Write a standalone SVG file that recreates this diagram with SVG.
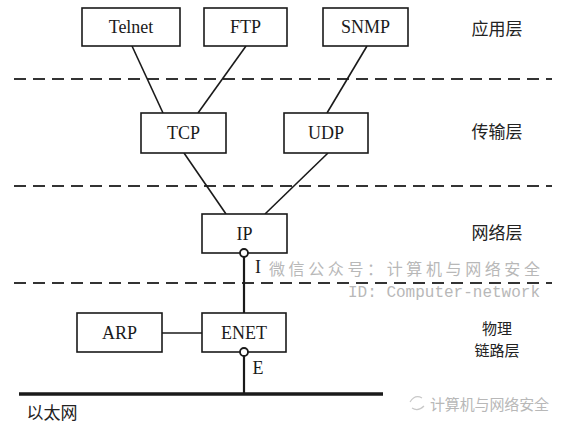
<svg xmlns="http://www.w3.org/2000/svg" width="566" height="428" viewBox="0 0 566 428">
<style>
.box{fill:#fff;stroke:#1a1a1a;stroke-width:1.6}
.lbl{font-family:"Liberation Serif","Times New Roman",serif;font-size:18px;fill:#1a1a1a;text-anchor:middle}
.cn{font-family:"Noto Sans CJK SC","Noto Serif CJK SC",sans-serif;font-size:17px;fill:#222;text-anchor:middle}
.cn2{font-family:"Noto Sans CJK SC","Noto Serif CJK SC",sans-serif;font-size:15px;fill:#222;text-anchor:middle}
.ln{stroke:#1a1a1a;stroke-width:1.6;fill:none}
.dash{stroke:#333;stroke-width:2;stroke-dasharray:12 7;fill:none}
.wm{font-family:"Noto Sans CJK SC",sans-serif;fill:#b8b8b8}
.port{fill:#fff;stroke:#1a1a1a;stroke-width:1.8}
</style>
<rect width="566" height="428" fill="#fff"/>
<g id="layers">
<line class="dash" x1="14" y1="79" x2="552" y2="79"/>
<line class="dash" x1="14" y1="186" x2="552" y2="186"/>
<line class="dash" x1="14" y1="283" x2="552" y2="283"/>
</g>
<g id="connectors">
<line class="ln" x1="132" y1="46" x2="163" y2="113"/>
<line class="ln" x1="246" y1="46" x2="198" y2="113"/>
<line class="ln" x1="367" y1="46" x2="327" y2="113"/>
<line class="ln" x1="184" y1="153" x2="226" y2="214"/>
<line class="ln" x1="328" y1="153" x2="265" y2="214"/>
<line x1="244" y1="257" x2="244" y2="313" stroke="#1a1a1a" stroke-width="2.2"/>
<line class="ln" x1="162" y1="333" x2="202" y2="333"/>
<line x1="244" y1="356" x2="244" y2="394" stroke="#1a1a1a" stroke-width="2.2"/>
<line x1="19" y1="394" x2="383" y2="394" stroke="#1a1a1a" stroke-width="3.5"/>
</g>
<g id="telnet"><rect class="box" x="82" y="8" width="98" height="38"/><text class="lbl" x="131" y="33">Telnet</text></g>
<g id="ftp"><rect class="box" x="204" y="8" width="83" height="38"/><text class="lbl" x="245.5" y="33">FTP</text></g>
<g id="snmp"><rect class="box" x="323" y="8" width="85" height="38"/><text class="lbl" x="365.5" y="33">SNMP</text></g>
<g id="tcp"><rect class="box" x="141" y="113" width="85" height="40"/><text class="lbl" x="183.5" y="139">TCP</text></g>
<g id="udp"><rect class="box" x="284" y="113" width="84" height="40"/><text class="lbl" x="326" y="139">UDP</text></g>
<g id="ip"><rect class="box" x="202" y="214" width="85" height="39"/><text class="lbl" x="244.5" y="240">IP</text><circle class="port" cx="244" cy="253" r="4"/><text class="lbl" x="258" y="273">I</text></g>
<g id="arp"><rect class="box" x="77" y="313" width="85" height="39"/><text class="lbl" x="119.5" y="339">ARP</text></g>
<g id="enet"><rect class="box" x="202" y="313" width="84" height="39"/><text class="lbl" x="244" y="339">ENET</text><circle class="port" cx="244" cy="352" r="4"/><text class="lbl" x="258" y="374">E</text></g>
<g id="layer-labels">
<text class="cn" x="497" y="35">应用层</text>
<text class="cn" x="497" y="138">传输层</text>
<text class="cn" x="497" y="239">网络层</text>
<text class="cn2" x="497" y="334">物理</text>
<text class="cn2" x="497" y="356">链路层</text>
<text class="cn" x="52" y="419">以太网</text>
</g>
<g id="watermarks">
<text class="wm" x="269" y="275" font-size="16" textLength="271" lengthAdjust="spacing">微信公众号：计算机与网络安全</text>
<text x="348" y="297" font-family="Liberation Mono,monospace" font-size="16" fill="#b8b8b8" textLength="192" lengthAdjust="spacingAndGlyphs">ID: Computer-network</text>
<path d="M410 402 q5 -8 12 -4 M412 408 q6 4 12 -2" stroke="#c8c8c8" stroke-width="1.2" fill="none"/>
<text class="wm" x="430" y="410" font-size="15" textLength="119" lengthAdjust="spacing">计算机与网络安全</text>
</g>
</svg>
